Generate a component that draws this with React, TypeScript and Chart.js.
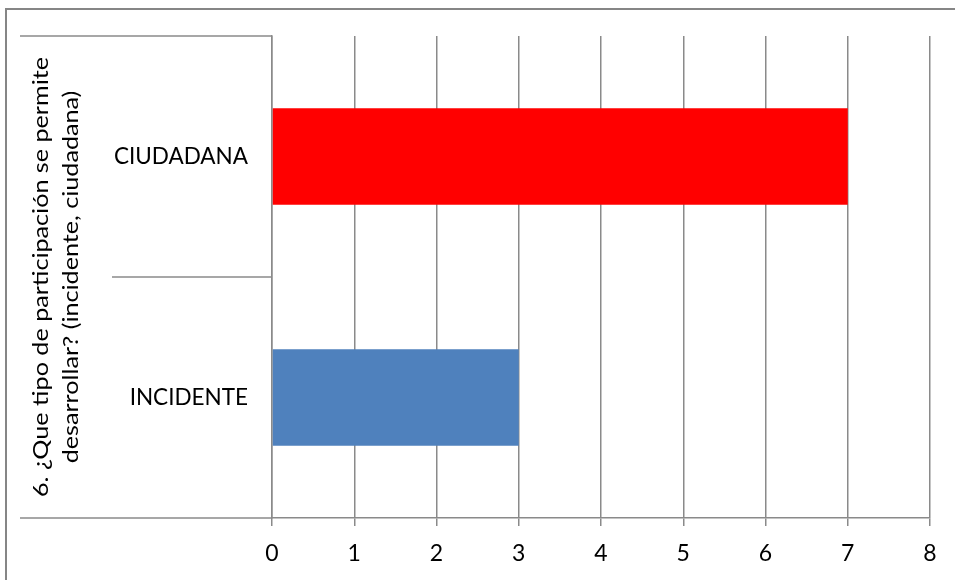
import React, { useEffect, useRef } from "react";
import { Chart, registerables } from "chart.js";

Chart.register(...registerables);

const categories = ["CIUDADANA", "INCIDENTE"];
const values = [7, 3];
const barColors = ["#FF0000", "#4F81BD"];
const xMin = 0;
const xMax = 8;
const xStep = 1;
const groupLabelLines = [
  "6. ¿Que tipo de participación se permite",
  "desarrollar? (incidente, ciudadana)",
];

const FONT = "Lato";
const LINE = "#8a8a8a";

const decorPlugin = {
  id: "decor",
  beforeDraw(chart: any) {
    const ctx = chart.ctx;
    ctx.save();
    ctx.fillStyle = "#ffffff";
    ctx.fillRect(0, 0, chart.width, chart.height);
    ctx.restore();
  },
  afterDraw(chart: any) {
    const ctx = chart.ctx;
    const y = chart.scales.y;
    ctx.save();
    // outer frame
    ctx.strokeStyle = "#868686";
    ctx.lineWidth = 2;
    ctx.strokeRect(6, 9, chart.width + 20, chart.height + 20);

    // multi-level category lines
    ctx.strokeStyle = LINE;
    ctx.lineWidth = 1.5;
    const mid = (y.getPixelForValue(0) + y.getPixelForValue(1)) / 2;
    const lines: [number, number][] = [
      [20, y.top],
      [112, mid],
      [20, y.bottom],
    ];
    for (const [x0, yy] of lines) {
      ctx.beginPath();
      ctx.moveTo(x0, yy);
      ctx.lineTo(y.right, yy);
      ctx.stroke();
    }

    // rotated group label
    const cy = (y.top + y.bottom) / 2;
    ctx.fillStyle = "#000";
    ctx.font = `21px ${FONT}`;
    ctx.textAlign = "center";
    ctx.textBaseline = "alphabetic";
    const xs = [48, 78];
    const w0 = ctx.measureText(groupLabelLines[0]).width;
    const stretch = 440 / w0;
    groupLabelLines.forEach((line, i) => {
      ctx.save();
      ctx.translate(xs[i], cy);
      ctx.rotate(-Math.PI / 2);
      ctx.scale(stretch, 1);
      ctx.fillText(line, 0, 0);
      ctx.restore();
    });
    ctx.restore();
  },
};

export default function App() {
  const ref = useRef<HTMLCanvasElement>(null);
  useEffect(() => {
    if (!ref.current) return;
    const chart = new Chart(ref.current, {
      type: "bar",
      data: {
        labels: categories,
        datasets: [
          {
            data: values,
            backgroundColor: barColors,
            barPercentage: 0.4,
            categoryPercentage: 1,
          },
        ],
      },
      options: {
        indexAxis: "y",
        responsive: false,
        animation: false,
        layout: { padding: { top: 36, right: 25, left: 0, bottom: 0 } },
        plugins: { legend: { display: false }, tooltip: { enabled: false } },
        scales: {
          x: {
            min: xMin,
            max: xMax,
            ticks: {
              stepSize: xStep,
              font: { family: FONT, size: 23 },
              color: "#000",
              padding: 14,
            },
            grid: { color: LINE, lineWidth: 1.5, tickLength: 8, drawTicks: true },
            border: { display: true, color: LINE, width: 1.5 },
            afterFit: (s: any) => {
              s.height = 62;
            },
          },
          y: {
            ticks: { font: { family: FONT, size: 22.5 }, color: "#000", padding: 16 },
            grid: { display: false },
            border: { display: true, color: LINE, width: 1.5 },
            afterFit: (s: any) => {
              s.width = 272;
            },
          },
        },
      },
      plugins: [decorPlugin],
    } as any);
    return () => chart.destroy();
  }, []);
  return (
    <div style={{ position: "fixed", left: 0, top: 0, width: 955, height: 580 }}>
      <canvas ref={ref} width={955} height={580} style={{ width: 955, height: 580 }} />
    </div>
  );
}
